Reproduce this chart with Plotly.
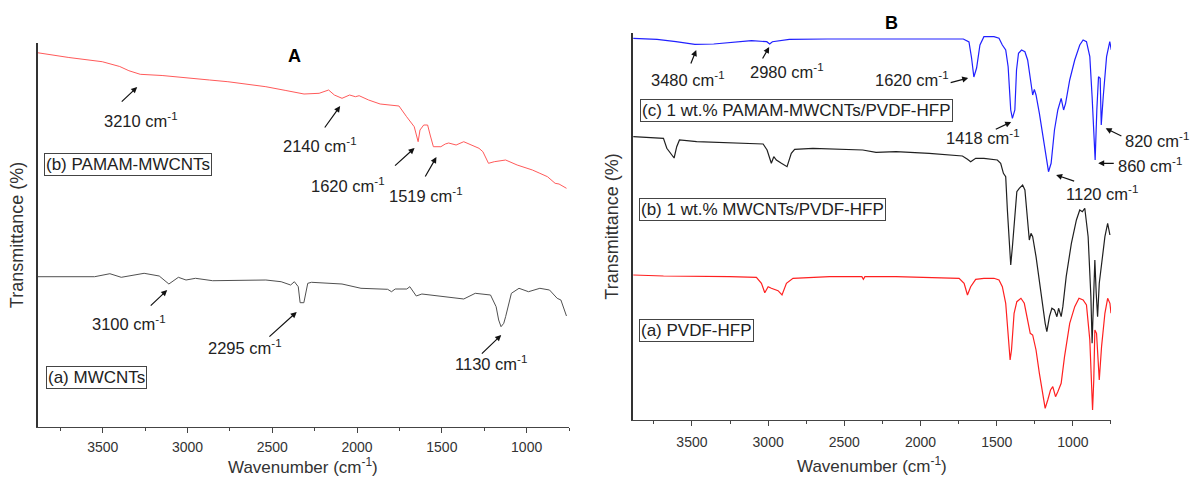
import plotly.graph_objects as go

# ---------------- Panel A data (wavenumber cm-1, transmittance a.u.) ----------------
a_pamam_wn = [3885, 3700, 3503, 3400, 3346, 3279, 3150, 2987, 2870, 2762, 2650, 2538, 2420, 2313, 2224,
              2168, 2134, 2089, 2044, 2010, 1988, 1932, 1864, 1753, 1708, 1663, 1640, 1629, 1607,
              1584, 1569, 1550, 1506, 1480, 1460, 1416, 1371, 1281, 1258, 1225, 1191, 1124, 1056,
              966, 922, 877, 832, 809, 765]
a_pamam_t = [374.3, 369.5, 365.3, 360.5, 356.3, 352.7, 351.5, 349.3, 347.0, 345.3, 342.8, 340.3, 336.5, 333.0, 333.7,
             337.0, 332.0, 328.7, 332.0, 330.3, 331.3, 327.0, 323.0, 321.0, 310.3, 300.3, 285.3, 297.0, 302.0,
             302.0, 292.0, 280.3, 280.3, 283.0, 284.0, 282.0, 285.3, 278.7, 275.3, 263.7, 265.3, 267.0, 262.0,
             257.0, 253.7, 250.3, 243.7, 243.0, 238.7]

a_mwcnt_wn = [3885, 3548, 3458, 3391, 3256, 3167, 3110, 3054, 3009, 2953, 2852, 2538, 2448, 2392, 2370,
              2347, 2336, 2314, 2291, 2269, 2089, 1977, 1820, 1797, 1775, 1707, 1689, 1674, 1651,
              1618, 1528, 1416, 1371, 1303, 1213, 1180, 1165, 1151, 1135, 1124, 1101, 1090, 1045,
              989, 922, 865, 820, 798, 765]
a_mwcnt_t = [150.3, 150.3, 153.3, 149.7, 153.7, 151.0, 143.0, 149.7, 147.0, 148.7, 146.3, 147.0, 145.3, 142.0, 145.3,
             140.3, 124.3, 124.3, 143.7, 144.7, 143.0, 138.7, 137.7, 135.3, 138.0, 138.0, 140.3, 137.0, 131.0,
             133.0, 131.3, 129.3, 128.0, 133.7, 132.0, 120.3, 107.0, 100.3, 103.7, 110.3, 127.0, 133.7, 138.7,
             135.3, 138.7, 137.0, 128.7, 127.0, 111.0]

# ---------------- Panel B data ----------------
b_pamam_wn = [3885, 3729, 3605, 3481, 3357, 3233, 3109, 3009, 2990, 2972, 2861, 2612, 2367, 2120, 1872,
              1719, 1682, 1665, 1650, 1632, 1610, 1584, 1518, 1485, 1463, 1441, 1425, 1408, 1397,
              1381, 1370, 1357, 1337, 1315, 1297, 1275, 1264, 1253, 1242, 1220, 1198, 1176, 1160,
              1143, 1121, 1099, 1077, 1061, 1048, 1021, 988, 955, 933, 911, 889, 874, 863, 854,
              843, 832, 821, 814, 801, 779, 758, 748]
b_pamam_t = [381.7, 380.7, 378.3, 375.7, 376.0, 378.0, 379.3, 378.3, 376.0, 378.3, 380.7, 381.0, 381.0, 381.0, 381.0,
             381.0, 378.0, 362.0, 343.0, 352.0, 375.0, 383.3, 383.3, 381.7, 375.0, 370.0, 353.3, 310.0, 301.7,
             310.0, 350.0, 366.7, 370.0, 368.3, 360.0, 333.3, 325.0, 330.7, 325.0, 306.7, 286.7, 263.3, 248.3,
             256.7, 290.0, 310.0, 321.7, 310.0, 316.7, 340.0, 360.0, 375.0, 380.0, 378.3, 363.3, 323.3, 283.3, 260.0,
             310.0, 343.3, 341.7, 295.0, 323.3, 363.3, 378.3, 370.0]

b_mwcnt_wn = [3885, 3687, 3665, 3633, 3617, 3600, 3582, 3469, 3251, 3033, 3007, 2979, 2963, 2946, 2913,
              2876, 2848, 2826, 2706, 2488, 2379, 2292, 2161, 1943, 1725, 1692, 1671, 1638, 1584,
              1496, 1474, 1456, 1441, 1430, 1419, 1408, 1397, 1381, 1368, 1352, 1330, 1315, 1302,
              1286, 1275, 1264, 1242, 1220, 1198, 1182, 1171, 1154, 1138, 1121, 1105, 1094, 1077,
              1066, 1044, 1010, 977, 955, 938, 922, 900, 882, 874, 865, 856, 847, 838, 827, 812,
              790, 772, 763, 757]
b_mwcnt_t = [283.3, 281.7, 271.7, 265.0, 262.0, 273.3, 280.0, 278.3, 277.3, 276.0, 270.0, 256.7, 263.3, 260.0, 256.7,
             253.3, 266.7, 270.7, 271.7, 270.7, 270.0, 267.7, 268.3, 266.7, 264.0, 260.7, 258.3, 261.7, 261.7,
             260.0, 256.7, 246.7, 243.3, 210.0, 183.3, 155.0, 173.3, 203.3, 228.3, 231.7, 235.0, 230.0, 210.0,
             180.0, 186.7, 183.3, 163.3, 136.7, 113.3, 96.7, 88.3, 103.3, 111.7, 110.0, 103.3, 111.7, 103.3,
             113.3, 143.3, 176.7, 200.0, 210.0, 208.3, 211.7, 183.3, 123.3, 76.7, 130.0, 160.0, 126.7, 103.3, 136.7, 156.7,
             183.3, 196.7, 190.0, 185.0]

b_pvdf_wn = [3885, 3687, 3251, 3077, 3044, 3022, 3000, 2979, 2935, 2909, 2880, 2837, 2597, 2385, 2375,
             2365, 2161, 1747, 1714, 1692, 1671, 1638, 1584, 1518, 1485, 1463, 1441, 1425, 1412,
             1403, 1386, 1368, 1341, 1319, 1297, 1280, 1264, 1242, 1220, 1198, 1182, 1165, 1147,
             1132, 1114, 1099, 1077, 1055, 1021, 988, 960, 933, 911, 889, 878, 871, 863, 856,
             845, 834, 827, 812, 790, 772, 757, 750]
b_pvdf_t = [145.0, 144.0, 143.3, 142.7, 136.7, 127.3, 133.3, 131.7, 129.3, 125.0, 136.7, 141.7, 143.3, 143.3, 140.7,
            143.3, 143.3, 141.7, 136.7, 125.0, 133.3, 140.7, 141.7, 141.7, 140.0, 133.3, 116.7, 80.0, 60.0,
            70.0, 106.7, 118.3, 121.7, 116.7, 100.0, 86.7, 85.0, 70.0, 46.7, 26.7, 11.7, 20.0, 30.0,
            33.3, 23.3, 28.3, 36.7, 63.3, 96.7, 113.3, 121.7, 120.0, 115.0, 80.0, 30.0, 10.0, 40.0, 90.0,
            86.7, 53.3, 40.0, 73.3, 106.7, 121.7, 116.7, 106.7]

tick_vals = [3500, 3000, 2500, 2000, 1500, 1000]
tick_text = ["3500", "3000", "2500", "2000", "1500", "1000"]
minor_vals = [3750, 3250, 2750, 2250, 1750, 1250, 750]

FONT = "Liberation Sans, Arial, sans-serif"
ANN_SIZE = 16.5

fig = go.Figure()
fig.add_trace(go.Scatter(x=a_pamam_wn, y=a_pamam_t, mode="lines", line=dict(color="#ff5a5a", width=1),
                         xaxis="x", yaxis="y", showlegend=False))
fig.add_trace(go.Scatter(x=a_mwcnt_wn, y=a_mwcnt_t, mode="lines", line=dict(color="#505050", width=1),
                         xaxis="x", yaxis="y", showlegend=False))
fig.add_trace(go.Scatter(x=b_pamam_wn, y=b_pamam_t, mode="lines", line=dict(color="#2020ff", width=1.2),
                         xaxis="x2", yaxis="y2", showlegend=False))
fig.add_trace(go.Scatter(x=b_mwcnt_wn, y=b_mwcnt_t, mode="lines", line=dict(color="#202020", width=1.2),
                         xaxis="x2", yaxis="y2", showlegend=False))
fig.add_trace(go.Scatter(x=b_pvdf_wn, y=b_pvdf_t, mode="lines", line=dict(color="#ff2020", width=1.2),
                         xaxis="x2", yaxis="y2", showlegend=False))


def xaxis_style(lab_standoff):
    return dict(tickvals=tick_vals, ticktext=tick_text, ticks="outside", ticklen=5, tickwidth=1,
                tickcolor="#444", showline=True, linecolor="#444", linewidth=1, showgrid=False,
                zeroline=False, tickfont=dict(size=14, color="#333", family=FONT),
                ticklabelstandoff=lab_standoff, automargin=False,
                minor=dict(tickvals=minor_vals, ticks="outside", ticklen=3, tickcolor="#444"))


ycommon = dict(showticklabels=False, ticks="", showline=True, linecolor="#333", linewidth=1.5,
               showgrid=False, zeroline=False, automargin=False,
               title=dict(text="Transmittance (%)", font=dict(size=18, color="#333", family=FONT), standoff=8))

fig.update_layout(
    width=1190, height=479,
    margin=dict(l=38, r=79, t=33, b=52, autoexpand=False),
    paper_bgcolor="white", plot_bgcolor="white",
    font=dict(family=FONT, color="#333"),
    xaxis=dict(domain=[0, 0.4949], range=[3882, 750], anchor="y", **xaxis_style(2)),
    yaxis=dict(domain=[0, 0.9746], range=[0, 384], anchor="x", **ycommon),
    xaxis2=dict(domain=[0.5545, 1], range=[3887, 750], anchor="y2", **xaxis_style(4)),
    yaxis2=dict(domain=[0.0178, 1], range=[0, 387], anchor="x2", **ycommon),
)

anns = []
# Panel titles
anns.append(dict(text="<b>A</b>", xref="paper", yref="paper", x=0.2386, y=0.9416, showarrow=False,
                 xanchor="center", yanchor="middle", font=dict(size=18, color="black", family=FONT)))
anns.append(dict(text="<b>B</b>", xref="paper", yref="paper", x=0.795, y=1.0254, showarrow=False,
                 xanchor="center", yanchor="middle", font=dict(size=18, color="black", family=FONT)))
# x-axis titles
for xp, yp in ((0.2474, -0.1), (0.7773, -0.0964)):
    anns.append(dict(text="Wavenumber (cm<sup>-1</sup>)", xref="paper", yref="paper", x=xp, y=yp,
                     showarrow=False, xanchor="center", yanchor="middle",
                     font=dict(size=17, color="#333", family=FONT)))


def label(text, x, y, xr, yr, xanchor="center", xshift=0):
    anns.append(dict(text=text, x=x, y=y, xref=xr, yref=yr, showarrow=False, xanchor=xanchor,
                     yanchor="middle", xshift=xshift,
                     font=dict(size=ANN_SIZE, color="#222", family=FONT)))


def arrow(tip, tail, xr, yr):
    anns.append(dict(text="", x=tip[0], y=tip[1], ax=tail[0], ay=tail[1], xref=xr, yref=yr,
                     axref=xr, ayref=yr, showarrow=True, arrowhead=2, arrowsize=1, arrowwidth=1.2,
                     arrowcolor="#111", standoff=0, startstandoff=0))


def box(text, x, y, xr, yr):
    anns.append(dict(text=text, x=x, y=y, xref=xr, yref=yr, showarrow=False, xanchor="left",
                     yanchor="middle", bordercolor="#444", borderwidth=1, borderpad=1, bgcolor="white",
                     font=dict(size=17, color="#222", family=FONT)))


CM = " cm<sup>-1</sup>"
# Panel A labels
label("3210" + CM, 3273, 307, "x", "y"); arrow((3297, 340), (3397, 324), "x", "y")
label("2140" + CM, 2220, 282, "x", "y"); arrow((2100, 321), (2197, 298), "x", "y")
label("1620" + CM, 2053, 242, "x", "y"); arrow((1661, 279), (1785, 260), "x", "y")
label("1519" + CM, 1591, 232, "x", "y"); arrow((1532, 270), (1603, 249), "x", "y")
label("3100" + CM, 3344, 104, "x", "y"); arrow((3120, 137), (3226, 120), "x", "y")
label("2295" + CM, 2661, 80, "x", "y"); arrow((2356, 115), (2526, 89), "x", "y")
label("1130" + CM, 1209, 64, "x", "y"); arrow((1150, 92), (1273, 72), "x", "y")
box("(b) PAMAM-MWCNTs", 3844, 262.5, "x", "y")
box("(a) MWCNTs", 3832, 49, "x", "y")

# Panel B labels
label("3480" + CM, 3524, 341, "x2", "y2"); arrow((3472, 370), (3511, 355), "x2", "y2")
label("2980" + CM, 2875, 349, "x2", "y2"); arrow((2993, 373), (3042, 360), "x2", "y2")
label("1620" + CM, 2054, 341, "x2", "y2"); arrow((1687, 342), (1812, 337), "x2", "y2")
label("1418" + CM, 1588, 283, "x2", "y2"); arrow((1405, 298), (1516, 290), "x2", "y2")
label("1120" + CM, 1057, 227, "x2", "y2", xanchor="left"); arrow((1110, 245), (982, 238.3), "x2", "y2")
label("820" + CM, 760, 280, "x2", "y2", xanchor="left", xshift=14); arrow((785, 291.7), (672, 283.3), "x2", "y2")
label("860" + CM, 760, 255, "x2", "y2", xanchor="left", xshift=7); arrow((834, 256.7), (722, 256.7), "x2", "y2")
box("(c) 1 wt.% PAMAM-MWCNTs/PVDF-HFP", 3839, 310, "x2", "y2")
box("(b) 1 wt.% MWCNTs/PVDF-HFP", 3846, 210.5, "x2", "y2")
box("(a) PVDF-HFP", 3846, 89, "x2", "y2")

fig.update_layout(annotations=anns)
fig.write_html("out.html")
